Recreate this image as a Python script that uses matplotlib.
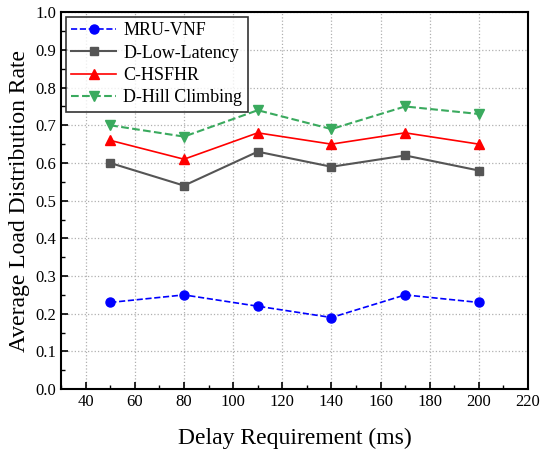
import numpy as np
import matplotlib.pyplot as plt
from matplotlib.ticker import MultipleLocator

plt.rcParams['font.family'] = ['Liberation Serif', 'DejaVu Serif']

delay = [50, 80, 110, 140, 170, 200]
mru_vnf = [0.23, 0.25, 0.22, 0.19, 0.25, 0.23]
d_low_latency = [0.60, 0.54, 0.63, 0.59, 0.62, 0.58]
c_hsfhr = [0.66, 0.61, 0.68, 0.65, 0.68, 0.65]
d_hill = [0.70, 0.67, 0.74, 0.69, 0.75, 0.73]

fig = plt.figure(figsize=(5.41, 4.53), dpi=100)
ax = fig.add_axes([0.113, 0.141, 0.863, 0.832])

ax.plot(delay, mru_vnf, '--o', color='#0000ff', markersize=6.5, linewidth=1.2, label='MRU-VNF')
ax.plot(delay, d_low_latency, '-s', color='#555555', markersize=6, linewidth=1.5, label='D-Low-Latency')
ax.plot(delay, c_hsfhr, '-^', color='#ff0000', markersize=7, linewidth=1.2, label='C-HSFHR')
ax.plot(delay, d_hill, '--v', color='#3aaa5e', markersize=7, linewidth=1.5, label='D-Hill Climbing')

ax.set_xlim(30, 220)
ax.set_ylim(0, 1.0)
ax.xaxis.set_major_locator(MultipleLocator(20))
ax.xaxis.set_minor_locator(MultipleLocator(10))
ax.yaxis.set_major_locator(MultipleLocator(0.1))
ax.yaxis.set_minor_locator(MultipleLocator(0.05))
ax.xaxis.set_major_formatter(plt.FuncFormatter(lambda v, p: '' if v < 35 else f'{v:.0f}'))
ax.yaxis.set_major_formatter(plt.FuncFormatter(lambda v, p: f'{v:.1f}'))
ax.tick_params(which='both', direction='in', labelsize=12)
ax.tick_params(which='major', length=5, width=1.2)
ax.tick_params(which='minor', length=3, width=1)
ax.grid(True, which='major', linestyle=':', color='#b0b0b0', linewidth=0.9)
for s in ax.spines.values():
    s.set_linewidth(1.5)

ax.set_xlabel('Delay Requirement (ms)', fontsize=17, labelpad=13)
ax.set_ylabel('Average Load Distribution Rate', fontsize=17, labelpad=4)

leg = ax.legend(loc='upper left', fontsize=13, frameon=True, fancybox=False,
                edgecolor='black', borderaxespad=0.25, handlelength=2.5,
                borderpad=0.3, labelspacing=0.3, handletextpad=0.4)
leg.get_frame().set_linewidth(1.2)

fig.savefig('out.png', dpi=100)
